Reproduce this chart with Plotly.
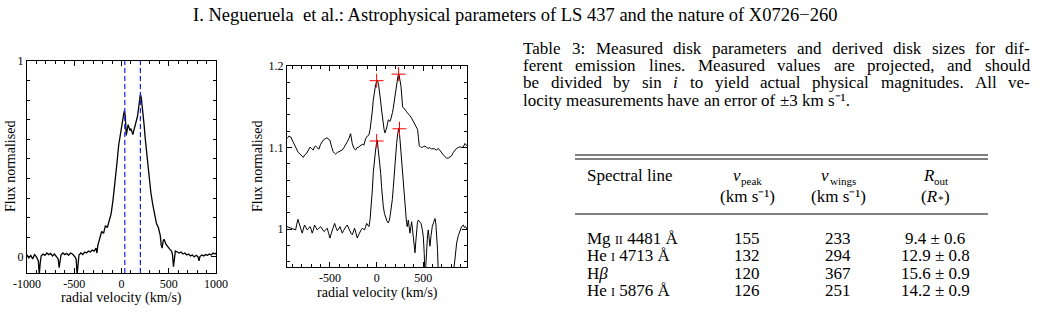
import re
import plotly.graph_objects as go

W, H = 1043, 321

# ---------------- data ----------------
# Left panel: line profile (radial velocity km/s, normalised flux)
left_v = [-1000, -980, -960, -940, -920, -900, -880, -870, -860, -850, -830, -810, -790, -770, -750,
          -730, -710, -690, -670, -660, -650, -640, -620, -600, -580, -560, -540, -520, -500, -480,
          -470, -460, -450, -430, -410, -390, -370, -350, -330, -310, -290, -270, -260, -250, -230,
          -210, -190, -170, -150, -130, -110, -90, -70, -50, -30, -10, 10, 20, 30, 40, 50, 60, 70,
          80, 90, 100, 110, 120, 130, 140, 150, 160, 170, 180, 190, 200, 210, 220, 230, 240, 250,
          270, 290, 310, 330, 350, 370, 390, 410, 420, 430, 440, 450, 470, 490, 510, 530, 540, 550,
          560, 570, 590, 610, 630, 650, 670, 690, 710, 730, 750, 770, 790, 810, 820, 830, 850, 870,
          890, 910, 930, 950, 970, 990, 1000]
left_f = [0.01, -0.005, 0.008, -0.01, 0.012, 0.0, -0.02, -0.09, -0.03, 0.005, 0.015, 0.008, 0.02,
          0.012, 0.018, 0.005, 0.015, 0.0, -0.01, -0.055, -0.02, 0.01, 0.02, 0.012, 0.018, 0.008,
          0.02, 0.015, 0.005, -0.01, -0.09, -0.02, 0.01, 0.02, 0.012, 0.025, 0.02, 0.03, 0.025,
          0.035, 0.03, 0.045, 0.02, 0.06, 0.09, 0.13, 0.12, 0.16, 0.15, 0.19, 0.22, 0.29, 0.40, 0.47,
          0.57, 0.64, 0.69, 0.72, 0.745, 0.72, 0.62, 0.66, 0.675, 0.66, 0.645, 0.655, 0.635, 0.625,
          0.645, 0.66, 0.68, 0.70, 0.72, 0.75, 0.79, 0.83, 0.81, 0.77, 0.73, 0.67, 0.61, 0.52, 0.40,
          0.33, 0.27, 0.22, 0.17, 0.15, 0.11, 0.06, 0.045, 0.08, 0.09, 0.065, 0.05, 0.04, 0.03, 0.01,
          -0.05, -0.01, 0.03, 0.025, 0.02, 0.025, 0.015, 0.02, 0.01, 0.015, 0.005, 0.01, 0.0, 0.008,
          0.0, -0.02, 0.002, 0.01, 0.005, 0.012, 0.008, 0.015, 0.01, 0.02, 0.015, 0.02]
left_marker_v = [35, 200]   # dashed velocity markers

# Right panel: upper spectrum
up_v = [-960, -940, -920, -900, -880, -860, -840, -820, -800, -786, -770, -750, -730, -714, -700,
        -679, -665, -654, -640, -618, -600, -585, -572, -550, -529, -515, -500, -480, -465, -450,
        -440, -420, -404, -385, -368, -350, -333, -315, -297, -279, -261, -243, -225, -210, -200,
        -186, -172, -154, -136, -118, -100, -82, -70, -57, -46, -36, -24, -11, 0, 10, 22, 35, 44,
        53, 62, 71, 80, 89, 98, 107, 116, 125, 134, 143, 152, 161, 170, 178, 187, 196, 207, 218,
        229, 239, 250, 261, 270, 278, 290, 303, 320, 339, 357, 375, 393, 411, 425, 439, 448, 457,
        470, 482, 500, 518, 536, 554, 572, 589, 607, 625, 643, 661, 678, 696, 714, 732, 750, 768,
        786, 804, 821, 839, 857, 875, 893, 911, 929, 946, 960, 968]
up_f = [1.111, 1.114, 1.113, 1.108, 1.104, 1.100, 1.094, 1.092, 1.090, 1.088, 1.091, 1.093, 1.097,
        1.1005, 1.099, 1.097, 1.101, 1.102, 1.100, 1.098, 1.104, 1.107, 1.109, 1.111, 1.112, 1.110,
        1.109, 1.100, 1.095, 1.093, 1.092, 1.094, 1.095, 1.096, 1.097, 1.100, 1.103, 1.107, 1.111,
        1.117, 1.105, 1.099, 1.097, 1.100, 1.100, 1.101, 1.102, 1.104, 1.103, 1.111, 1.114, 1.1155,
        1.122, 1.132, 1.145, 1.158, 1.168, 1.177, 1.181, 1.182, 1.176, 1.167, 1.156, 1.146, 1.137,
        1.128, 1.122, 1.118, 1.120, 1.124, 1.129, 1.134, 1.133, 1.132, 1.135, 1.138, 1.143, 1.148,
        1.155, 1.1625, 1.173, 1.183, 1.188, 1.19, 1.184, 1.175, 1.162, 1.150, 1.148, 1.147, 1.144,
        1.142, 1.139, 1.136, 1.132, 1.128, 1.125, 1.122, 1.112, 1.102, 1.101, 1.100, 1.101, 1.102,
        1.100, 1.099, 1.100, 1.098, 1.099, 1.098, 1.097, 1.099, 1.096, 1.093, 1.091, 1.089, 1.087,
        1.087, 1.088, 1.090, 1.094, 1.097, 1.099, 1.100, 1.101, 1.100, 1.101, 1.105, 1.102, 1.102]

# Right panel: lower spectrum
low_v = [-960, -940, -922, -900, -880, -868, -855, -843, -833, -822, -810, -797, -785, -772, -758,
         -743, -728, -714, -702, -690, -678, -665, -650, -636, -618, -600, -583, -565, -547, -529,
         -515, -500, -488, -475, -462, -450, -436, -422, -407, -393, -380, -368, -355, -343, -329,
         -315, -302, -290, -275, -261, -248, -236, -221, -207, -193, -179, -166, -154, -141, -129,
         -118, -107, -95, -82, -70, -57, -46, -36, -24, -11, 0, 7, 15, 25, 35, 44, 53, 62, 71, 84,
         96, 110, 125, 134, 143, 155, 168, 178, 189, 201, 214, 226, 239, 250, 261, 273, 285, 297,
         310, 320, 328, 339, 348, 357, 366, 375, 384, 393, 402, 411, 420, 428, 437, 446, 460, 475,
         488, 500, 510, 518, 527, 536, 545, 553, 562, 571, 583, 596, 610, 625, 635, 643, 652, 661,
         670, 678, 690, 700, 720, 740, 760, 780, 800, 820, 839, 848, 857, 875, 893, 910, 929, 940,
         954, 968]
low_f = [1.003, 1.002, 1.001, 1.000, 0.999, 0.999, 1.006, 1.012, 1.008, 1.003, 0.998, 0.995, 1.000,
         1.005, 1.002, 0.999, 1.001, 1.003, 1.000, 0.995, 0.999, 1.005, 1.002, 0.999, 1.001, 1.003,
         1.000, 0.997, 0.999, 1.001, 0.995, 0.989, 0.994, 0.999, 1.003, 1.007, 1.002, 0.998, 1.000,
         1.003, 0.999, 0.995, 0.998, 1.001, 1.003, 1.005, 1.001, 0.997, 0.995, 0.993, 0.997, 1.001,
         0.995, 0.989, 0.993, 0.997, 0.999, 1.001, 1.000, 0.999, 1.003, 1.007, 1.005, 1.003, 1.012,
         1.028, 1.048, 1.069, 1.085, 1.097, 1.106, 1.109, 1.100, 1.090, 1.085, 1.068, 1.052, 1.039,
         1.028, 1.019, 1.014, 1.010, 1.0075, 1.010, 1.015, 1.024, 1.036, 1.050, 1.069, 1.087, 1.105,
         1.117, 1.124, 1.110, 1.094, 1.072, 1.052, 1.035, 1.020, 1.008, 1.003, 1.011, 1.003, 0.995,
         1.002, 1.009, 1.000, 0.991, 0.980, 0.971, 0.985, 1.003, 1.008, 1.011, 1.009, 1.007, 1.000,
         0.991, 0.970, 0.940, 0.955, 0.979, 0.992, 0.999, 0.990, 0.979, 0.992, 1.003, 1.008, 1.013,
         1.006, 0.995, 0.975, 0.945, 0.935, 0.940, 0.935, 0.930, 0.935, 0.940, 0.930, 0.935, 0.940,
         0.945, 0.963, 0.975, 0.983, 0.992, 0.999, 1.003, 1.005, 1.002, 1.003, 1.000]

# Peak markers (red crosses)
peak_v = [0, 235, 0, 245]
peak_f = [1.182, 1.190, 1.108, 1.123]

# Table 3
table_lines = ["Mg <span style='font-size:12px'>II</span> 4481 Å",
               "He <span style='font-size:12px'>I</span> 4713 Å",
               "H<i>β</i>",
               "He <span style='font-size:12px'>I</span> 5876 Å"]
v_peak = [155, 132, 120, 126]
v_wings = [233, 294, 367, 251]
r_out = ["9.4 ± 0.6", "12.9 ± 0.8", "15.6 ± 0.9", "14.2 ± 0.9"]
col_symbols = [("v", "peak", "(km s⁻¹)"), ("v", "wings", "(km s⁻¹)"), ("R", "out", None)]

caption_lines = [
    "Table 3: Measured disk parameters and derived disk sizes for dif-",
    "ferent emission lines. Measured values are projected, and should",
    "be divided by sin <i>i</i> to yield actual physical magnitudes. All ve-",
    "locity measurements have an error of ±3 km s⁻¹.",
]
header_text = "I. Negueruela  et al.: Astrophysical parameters of LS 437 and the nature of X0726−260"

# ---------------- layout helpers ----------------
SERIF = "Liberation Serif, Times New Roman, serif"

# Times advance widths (per 1000 em) used to place justified words / subscripts
TW = {' ': 250, '!': 333, '(': 333, ')': 333, ',': 250, '-': 333, '.': 250, '/': 278, ':': 278,
      ';': 278, '±': 564, '−': 564, 'Å': 722, '⁻': 380, '¹': 300, '*': 500,
      'A': 722, 'B': 667, 'C': 667, 'D': 722, 'E': 611, 'F': 556, 'G': 722, 'H': 722, 'I': 333,
      'J': 389, 'K': 722, 'L': 611, 'M': 889, 'N': 722, 'O': 722, 'P': 556, 'Q': 722, 'R': 667,
      'S': 556, 'T': 611, 'U': 722, 'V': 722, 'W': 944, 'X': 722, 'Y': 722, 'Z': 611,
      'a': 444, 'b': 500, 'c': 444, 'd': 500, 'e': 444, 'f': 333, 'g': 500, 'h': 500, 'i': 278,
      'j': 278, 'k': 500, 'l': 278, 'm': 778, 'n': 500, 'o': 500, 'p': 500, 'q': 500, 'r': 333,
      's': 389, 't': 278, 'u': 500, 'v': 500, 'w': 722, 'x': 500, 'y': 500, 'z': 444}


def text_width(s, size):
    w = 0.0
    for tok in re.split(r'(<[^>]+>)', s):
        if tok.startswith('<'):
            continue
        for ch in tok:
            w += TW.get(ch, 500)
    return w * size / 1000.0


def px(x):
    return x / W


def py(y):
    return 1 - y / H


fig = go.Figure()

fig.add_trace(go.Scatter(x=left_v, y=left_f, mode="lines",
                         line=dict(color="black", width=1.3),
                         xaxis="x", yaxis="y", showlegend=False))
fig.add_trace(go.Scatter(x=up_v, y=up_f, mode="lines",
                         line=dict(color="black", width=1),
                         xaxis="x2", yaxis="y2", showlegend=False))
fig.add_trace(go.Scatter(x=low_v, y=low_f, mode="lines",
                         line=dict(color="black", width=1),
                         xaxis="x2", yaxis="y2", showlegend=False))
fig.add_trace(go.Scatter(x=peak_v, y=peak_f, mode="markers",
                         marker=dict(symbol="cross-thin", size=10,
                                     line=dict(color="red", width=1)),
                         xaxis="x2", yaxis="y2", showlegend=False, cliponaxis=False))

shapes = []
for v in left_marker_v:
    shapes.append(dict(type="line", xref="x", yref="y domain", x0=v, x1=v, y0=0, y1=1,
                       line=dict(color="#1a1aff", width=1.2, dash="5px,3px")))

axis_common = dict(showgrid=False, zeroline=False, showline=True, linecolor="black",
                   linewidth=1, mirror="allticks", ticks="inside", ticklen=5,
                   tickwidth=1, tickcolor="black", automargin=False,
                   tickfont=dict(family=SERIF, size=12, color="black"))

fig.update_layout(
    width=W, height=H, margin=dict(l=0, r=0, t=0, b=0, autoexpand=False),
    paper_bgcolor="white", plot_bgcolor="white", showlegend=False,
    xaxis=dict(domain=[px(27), px(216)], range=[-1000, 1000], anchor="y",
               tickmode="array", tickvals=[-1000, -500, 0, 500, 1000],
               ticktext=["-1000", "-500", "0", "500", "1000"],
               minor=dict(ticks="inside", ticklen=3, tickcolor="black", tick0=0, dtick=100),
               **axis_common),
    yaxis=dict(domain=[py(273), py(61)], range=[-0.082, 1.0], anchor="x",
               tickmode="array", tickvals=[0, 1], ticktext=["0", "1"],
               minor=dict(ticks="inside", ticklen=3, tickcolor="black", tick0=0, dtick=0.1),
               **axis_common),
    xaxis2=dict(domain=[px(287), px(467)], range=[-960, 968], anchor="y2",
                tickmode="array", tickvals=[-500, 0, 500], ticktext=["-500", "0", "500"],
                minor=dict(ticks="inside", ticklen=3, tickcolor="black", tick0=0, dtick=100),
                **axis_common),
    yaxis2=dict(domain=[py(267), py(66)], range=[0.9535, 1.2], anchor="x2",
                tickmode="array", tickvals=[1.0, 1.1, 1.2], ticktext=["1", "1.1", "1.2"],
                minor=dict(ticks="inside", ticklen=3, tickcolor="black", tick0=1.0, dtick=0.02),
                **axis_common),
    shapes=shapes,
)

ann = []


def text(x, y, s, size, xanchor="left", angle=0):
    ann.append(dict(xref="paper", yref="paper", x=px(x), y=py(y), text=s, showarrow=False,
                    xanchor=xanchor, yanchor="middle", textangle=angle, borderpad=0,
                    borderwidth=0,
                    font=dict(family=SERIF, size=size, color="black")))


# page header
text(515, 15, header_text, 18.5, xanchor="center")

# axis titles
text(121, 298, "radial velocity (km/s)", 14, xanchor="center")
text(11, 167, "Flux normalised", 14, xanchor="center", angle=-90)
text(377, 293, "radial velocity (km/s)", 14, xanchor="center")
text(258, 167, "Flux normalised", 14, xanchor="center", angle=-90)

# caption (justified word by word, last line ragged)
CAP_SIZE = 17
CAP_LEFT, CAP_RIGHT = 523, 1030
cap_y = [48, 65.5, 83, 100.5]
for k, (yy, s) in enumerate(zip(cap_y, caption_lines)):
    words = s.split(" ")
    widths = [text_width(wd, CAP_SIZE) for wd in words]
    if k < len(caption_lines) - 1:
        gap = (CAP_RIGHT - CAP_LEFT - sum(widths)) / (len(words) - 1)
    else:
        gap = 0.25 * CAP_SIZE
    xx = CAP_LEFT
    for wd, wdw in zip(words, widths):
        text(xx, yy, wd, CAP_SIZE)
        xx += wdw + gap

# table rules
for yy in (155, 159):
    fig.add_shape(type="line", xref="paper", yref="paper", x0=px(575), x1=px(988),
                  y0=py(yy), y1=py(yy), line=dict(color="black", width=1))
fig.add_shape(type="line", xref="paper", yref="paper", x0=px(575), x1=px(988),
              y0=py(214), y1=py(214), line=dict(color="black", width=1))

TS = 17
SUB = 11
# table header
text(587, 176, "Spectral line", TS)
col_x = [747, 838, 935]
for cx, (sym, sub, unit) in zip(col_x, col_symbols):
    w_sym = text_width(sym, TS) * (0.9 if sym == "v" else 0.95)
    w_sub = text_width(sub, SUB)
    x0 = cx - (w_sym + w_sub) / 2
    text(x0, 176, "<i>%s</i>" % sym, TS)
    text(x0 + w_sym + 1, 180.5, sub, SUB)
    if unit is not None:
        text(cx, 196, unit, TS, xanchor="center")
    else:
        # (R*) built from pieces so that the subscript stays small
        w1 = text_width("(R", TS)
        w2 = text_width("*", SUB)
        w3 = text_width(")", TS)
        s0 = cx - (w1 + w2 + w3) / 2
        text(s0, 196, "(<i>R</i>", TS)
        text(s0 + w1, 199, "*", SUB)
        text(s0 + w1 + w2 + 0.5, 196, ")", TS)

row_y = [238, 255.5, 273, 290.5]
for yy, name, a, b, c in zip(row_y, table_lines, v_peak, v_wings, r_out):
    text(587, yy, name, TS)
    text(747, yy, str(a), TS, xanchor="center")
    text(838, yy, str(b), TS, xanchor="center")
    text(935, yy, c, TS, xanchor="center")

fig.update_layout(annotations=ann)
fig.write_html("out.html")
